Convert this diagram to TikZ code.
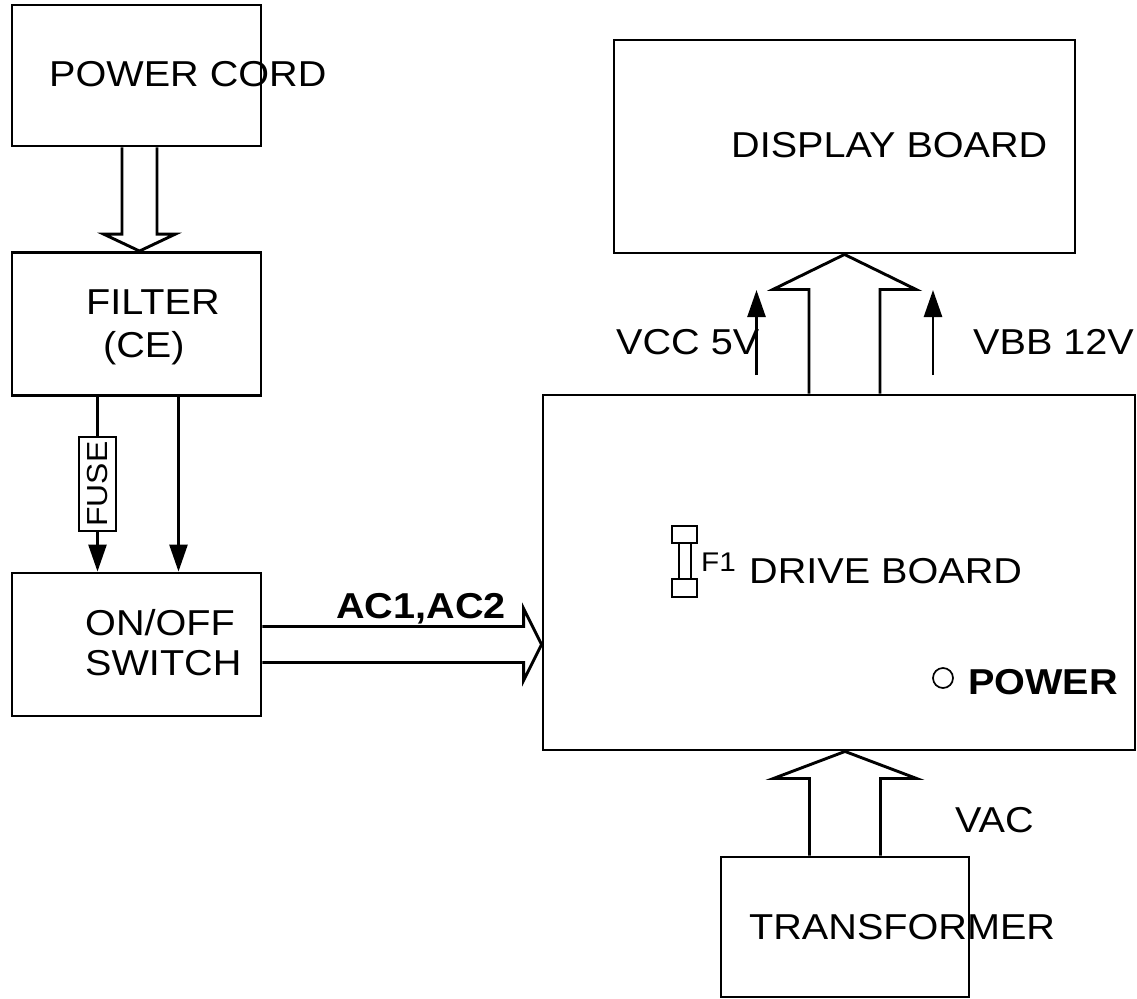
\documentclass[tikz,border=0pt]{standalone}
\usepackage{fontspec}
\setmainfont[FakeStretch=1.1]{Liberation Sans}
\usetikzlibrary{positioning,calc,arrows.meta}

\tikzset{
  block/.style={draw, line width=2.9pt, inner sep=0pt},
  lbl/.style={anchor=base west, inner sep=0pt, font=\fontsize{36}{43}\selectfont},
  thinarrow/.style={line width=2.6pt, -{Triangle[length=27pt,width=18pt]}},
  fat/.style={line width=2.9pt, line join=miter}
}

% hollow arrow: from, to, shaft half width, head half width, head length
\newcommand{\fatarrow}[5]{%
  \draw[fat] let \p1=(#1), \p2=(#2),
    \n1={atan2(\y2-\y1,\x2-\x1)}, \n2={veclen(\x2-\x1,\y2-\y1)} in
    [shift={(\p1)}, rotate=\n1]
    (0,#3) -- (\n2-#5,#3) -- (\n2-#5,#4) -- (\n2,0) -- (\n2-#5,-#4) -- (\n2-#5,-#3) -- (0,-#3);}

\begin{document}
\begin{tikzpicture}[x=1pt,y=-1pt]
            \useasboundingbox (0,0) rectangle (1137,998);

            \node[block, minimum width=249pt, minimum height=141pt] (cord) at (136.5,75.5) {};
            \node[block, minimum width=249pt, minimum height=143pt] (filter) at (136.5,324) {};
            \node[block, minimum width=249pt, minimum height=143pt] (switch) at (136.5,644.5) {};
            \node[block, minimum width=461pt, minimum height=213pt] (display) at (844.5,146.5) {};
            \node[block, minimum width=592pt, minimum height=355pt] (drive) at (839,572.5) {};
            \node[block, minimum width=248pt, minimum height=140pt] (trafo) at (845,927) {};

            \node[block, rotate=90, minimum width=94pt, minimum height=37pt,
                  font=\fontsize{29}{30}\selectfont] (fuse) at (97.5,484) {FUSE\hspace{8pt}};

            \node[lbl] (cordtxt) at (49,86) {POWER CORD};
            \node[lbl] (filtertxt) at (86,314) {FILTER};
            \node[lbl] (cetxt) at (103,357) {(CE)};
            \node[lbl] (ontxt) at (85,635) {ON/OFF};
            \node[lbl] (swtxt) at (85,675) {SWITCH};
            \node[lbl, font=\fontsize{36}{43}\selectfont\bfseries] (actxt) at (336,618) {AC1,AC2};
            \node[lbl] (disptxt) at (731,157) {DISPLAY BOARD};
            \node[lbl] (vcctxt) at (616,354) {VCC 5V};
            \node[lbl] (vbbtxt) at (973,354) {VBB 12V};
            \node[lbl, font=\fontsize{27}{32}\selectfont] (f1txt) at (701,571) {F1};
            \node[lbl] (drivetxt) at (749,583) {DRIVE BOARD};
            \node[lbl, font=\fontsize{36}{43}\selectfont\bfseries] (powtxt) at (968,694) {POWER};
            \node[lbl] (vactxt) at (955,832) {VAC};
            \node[lbl] (trafotxt) at (749,939) {TRANSFORMER};

            \fatarrow{[xshift=3pt]cord.south}{[xshift=3pt]filter.north}{17.5}{36}{17}
            \fatarrow{switch.east}{switch.east -| drive.west}{18}{36}{18}
            \fatarrow{drive.north -| display.south}{display.south}{35.5}{71.5}{35}
            \fatarrow{trafo.north}{trafo.north |- drive.south}{35.5}{71.5}{27}

            \draw[line width=2.6pt] (filter.south -| fuse) -- (fuse);
            \draw[thinarrow] (fuse) -- (switch.north -| fuse);
            \draw[thinarrow] ([xshift=42pt]filter.south) -- ([xshift=42pt]switch.north);

            \coordinate (vcc) at (756.5,375);
            \coordinate (vcctip) at (756.5,290);
            \coordinate (vbb) at (933,375);
            \coordinate (vbbtip) at (933,290);
            \draw[thinarrow] (vcc) -- (vcctip);
            \draw[thinarrow] (vbb) -- (vbbtip);

            \draw[line width=1.5pt] (672,526) rectangle (697,543);
            \draw[line width=1.5pt] (679,543) rectangle (691,579);
            \draw[line width=1.5pt] (672,579) rectangle (697,597);

            \draw[line width=1.7pt] (943,678) circle (10pt);
        \end{tikzpicture}
\end{document}
